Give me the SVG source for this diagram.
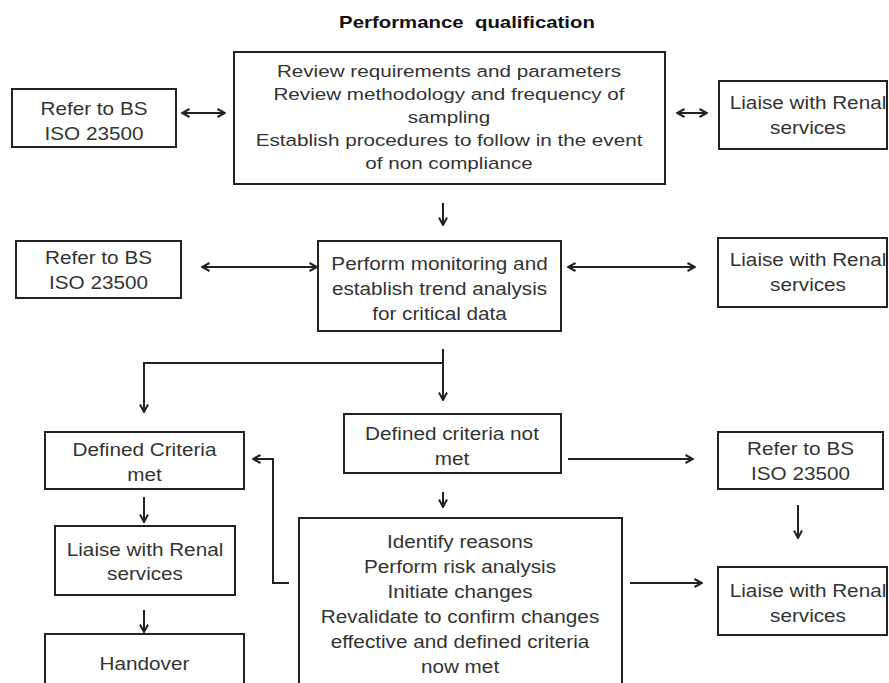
<svg xmlns="http://www.w3.org/2000/svg" width="889" height="683" viewBox="0 0 889 683">
<style>
.box{fill:#fff;stroke:#222;stroke-width:2}
.t{font-family:"Liberation Sans",Arial,sans-serif;font-size:18.5px;fill:#333;text-anchor:middle}
.ts{font-size:17px}
.title{font-family:"Liberation Sans",Arial,sans-serif;font-weight:bold;font-size:16.5px;fill:#111;text-anchor:middle;white-space:pre}
.c{fill:none;stroke:#222;stroke-width:2}
.a{marker-end:url(#arr)}
.d{marker-start:url(#arr);marker-end:url(#arr)}
</style>
<defs>
<marker id="arr" viewBox="0 0 10 10" refX="9" refY="5" markerWidth="10" markerHeight="10" markerUnits="userSpaceOnUse" orient="auto-start-reverse">
<path d="M1.5,1 L9,5 L1.5,9" fill="none" stroke="#222" stroke-width="2"/>
</marker>
</defs>
<rect width="889" height="683" fill="#fff"/>
<g id="title" transform="translate(467,0) scale(1.235,1)">
<text class="title" x="0" y="28" xml:space="preserve">Performance  qualification</text>
</g>

<g id="connectors">
<line class="c d" x1="182" y1="113" x2="225" y2="113"/>
<line class="c d" x1="677" y1="113" x2="707" y2="113"/>
<line class="c a" x1="443" y1="203" x2="443" y2="225"/>
<line class="c d" x1="202" y1="267" x2="317" y2="267"/>
<line class="c d" x1="568" y1="267" x2="695" y2="267"/>
<line class="c a" x1="443" y1="349" x2="443" y2="400"/>
<polyline class="c a" points="443,363 144,363 144,412"/>
<line class="c a" x1="568" y1="459" x2="693" y2="459"/>
<line class="c a" x1="443" y1="492" x2="443" y2="507"/>
<polyline class="c a" points="289,583 273,583 273,459 253,459"/>
<line class="c a" x1="798" y1="505" x2="798" y2="538"/>
<line class="c a" x1="630" y1="583" x2="702" y2="583"/>
<line class="c a" x1="144" y1="497" x2="144" y2="522"/>
<line class="c a" x1="144" y1="610" x2="144" y2="632"/>
</g>

<g id="n-refer1">
<rect class="box" x="12" y="89" width="164" height="58"/>
<g transform="translate(94,0) scale(1.12,1)">
<text class="t" x="0" y="115">Refer to BS</text>
<text class="t" x="0" y="140">ISO 23500</text>
</g>
</g>

<g id="n-review">
<rect class="box" x="234" y="52" width="431" height="132"/>
<g transform="translate(449,0) scale(1.215,1)">
<text class="t ts" x="0" y="77">Review requirements and parameters</text>
<text class="t ts" x="0" y="100">Review methodology and frequency of</text>
<text class="t ts" x="0" y="123">sampling</text>
<text class="t ts" x="0" y="146">Establish procedures to follow in the event</text>
<text class="t ts" x="0" y="169">of non compliance</text>
</g>
</g>

<g id="n-liaise1">
<rect class="box" x="719" y="81" width="168" height="68"/>
<g transform="translate(808,0) scale(1.12,1)">
<text class="t" x="0" y="109">Liaise with Renal</text>
<text class="t" x="0" y="134">services</text>
</g>
</g>

<g id="n-refer2">
<rect class="box" x="16" y="241" width="165" height="57"/>
<g transform="translate(98.5,0) scale(1.12,1)">
<text class="t" x="0" y="264">Refer to BS</text>
<text class="t" x="0" y="289">ISO 23500</text>
</g>
</g>

<g id="n-monitor">
<rect class="box" x="318" y="241" width="243" height="90"/>
<g transform="translate(439.5,0) scale(1.12,1)">
<text class="t" x="0" y="270">Perform monitoring and</text>
<text class="t" x="0" y="295">establish trend analysis</text>
<text class="t" x="0" y="320">for critical data</text>
</g>
</g>

<g id="n-liaise2">
<rect class="box" x="718" y="238" width="169" height="69"/>
<g transform="translate(808,0) scale(1.12,1)">
<text class="t" x="0" y="266">Liaise with Renal</text>
<text class="t" x="0" y="291">services</text>
</g>
</g>

<g id="n-met">
<rect class="box" x="45" y="432" width="199" height="57"/>
<g transform="translate(144.5,0) scale(1.12,1)">
<text class="t" x="0" y="456">Defined Criteria</text>
<text class="t" x="0" y="481">met</text>
</g>
</g>

<g id="n-notmet">
<rect class="box" x="344" y="414" width="217" height="59"/>
<g transform="translate(452,0) scale(1.12,1)">
<text class="t" x="0" y="440">Defined criteria not</text>
<text class="t" x="0" y="465">met</text>
</g>
</g>

<g id="n-refer3">
<rect class="box" x="718" y="432" width="165" height="57"/>
<g transform="translate(800.5,0) scale(1.12,1)">
<text class="t" x="0" y="455">Refer to BS</text>
<text class="t" x="0" y="480">ISO 23500</text>
</g>
</g>

<g id="n-liaise3">
<rect class="box" x="55" y="526" width="180" height="69"/>
<g transform="translate(145,0) scale(1.12,1)">
<text class="t" x="0" y="556">Liaise with Renal</text>
<text class="t" x="0" y="580">services</text>
</g>
</g>

<g id="n-identify">
<rect class="box" x="299" y="518" width="323" height="180"/>
<g transform="translate(460,0) scale(1.12,1)">
<text class="t" x="0" y="548">Identify reasons</text>
<text class="t" x="0" y="573">Perform risk analysis</text>
<text class="t" x="0" y="598">Initiate changes</text>
<text class="t" x="0" y="623">Revalidate to confirm changes</text>
<text class="t" x="0" y="648">effective and defined criteria</text>
<text class="t" x="0" y="673">now met</text>
</g>
</g>

<g id="n-liaise4">
<rect class="box" x="718" y="567" width="169" height="68"/>
<g transform="translate(808,0) scale(1.12,1)">
<text class="t" x="0" y="597">Liaise with Renal</text>
<text class="t" x="0" y="622">services</text>
</g>
</g>

<g id="n-handover">
<rect class="box" x="45" y="634" width="199" height="64"/>
<g transform="translate(144.5,0) scale(1.12,1)">
<text class="t" x="0" y="670">Handover</text>
</g>
</g>
</svg>
